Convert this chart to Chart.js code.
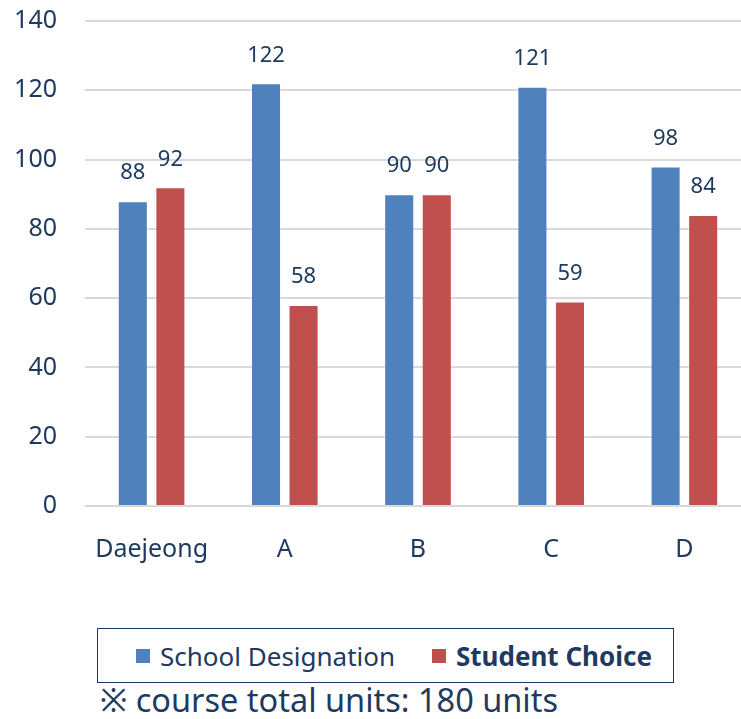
<!DOCTYPE html>
<html>
<head>
<meta charset="utf-8">
<script src="https://cdn.jsdelivr.net/npm/chart.js@4.4.1/dist/chart.umd.min.js"></script>
<style>
  body { margin: 0; background: #fff; width: 741px; height: 719px; overflow: hidden; position: relative; font-family: "Noto Sans", sans-serif; color: #1F3A60; }
  #wrap { position: absolute; left: 0; top: 0; width: 741px; height: 590px; overflow: hidden; }
  #chart { position: absolute; left: 0; top: -22px; }
  #legend { position: absolute; left: 97px; top: 628px; width: 575px; height: 53px; border: 1.5px solid #1F3A60; font-size: 26px; }
  .item { display: flex; align-items: center; position: absolute; top: 0; height: 53px; }
  .sw { width: 14px; height: 14px; margin-right: 10px; }
  #note { position: absolute; left: 100px; top: 677px; font-size: 32.5px; white-space: nowrap; }
</style>
</head>
<body>
<div id="wrap"><canvas id="chart" width="751" height="612"></canvas></div>
<div id="legend">
  <div class="item" style="left:38px"><div class="sw" style="background:#4F81BD"></div><span>School Designation</span></div>
  <div class="item" style="left:334px"><div class="sw" style="background:#C0504D"></div><span style="font-weight:bold">Student Choice</span></div>
</div>
<div id="note">※ course total units: 180 units</div>
<script>
// chart data
const categories = ['Daejeong', 'A', 'B', 'C', 'D'];
const schoolDesignation = [88, 122, 90, 121, 98];
const studentChoice = [92, 58, 90, 59, 84];
const yTicks = [0, 20, 40, 60, 80, 100, 120, 140];

const textColor = '#1F3A60';

// draw the value above each bar
const valueLabels = {
    id: 'valueLabels',
    afterDatasetsDraw(chart) {
        const ctx = chart.ctx;
        ctx.save();
        ctx.font = '22px "Noto Sans"';
        ctx.fillStyle = textColor;
        ctx.textAlign = 'center';
        ctx.textBaseline = 'middle';
        chart.data.datasets.forEach((ds, i) => {
            chart.getDatasetMeta(i).data.forEach((bar, j) => {
                ctx.fillText(ds.data[j], bar.x, bar.y - 28);
            });
        });
        ctx.restore();
    }
};

new Chart(document.getElementById('chart'), {
    type: 'bar',
    data: {
        labels: categories,
        datasets: [{
            label: 'School Designation',
            data: schoolDesignation,
            backgroundColor: '#4F81BD',
            borderColor: 'rgba(255,255,255,0.35)',
            borderWidth: 1
        }, {
            label: 'Student Choice',
            data: studentChoice,
            backgroundColor: '#C0504D',
            borderColor: 'rgba(255,255,255,0.35)',
            borderWidth: 1
        }]
    },
    options: {
        responsive: false,
        animation: false,
        devicePixelRatio: 1,
        layout: { padding: { top: 0, right: 0 } },
        datasets: { bar: { barPercentage: 0.8, categoryPercentage: 0.564 } },
        plugins: {
            legend: { display: false },
            tooltip: { enabled: false }
        },
        scales: {
            x: {
                grid: { display: false, drawTicks: false },
                border: { display: false },
                ticks: { color: textColor, font: { family: 'Noto Sans', size: 25 }, padding: 29 },
                afterFit: s => { s.height = 84; }
            },
            y: {
                min: 0,
                max: 140,
                afterBuildTicks: s => { s.ticks = yTicks.map(v => ({ value: v })); },
                grid: { color: '#D9D9D9', lineWidth: 2, drawTicks: false },
                border: { display: false },
                ticks: { color: textColor, font: { family: 'Noto Sans', size: 25 }, padding: 28 },
                afterFit: s => { s.width = 85; }
            }
        }
    },
    plugins: [valueLabels]
});
</script>
</body>
</html>
